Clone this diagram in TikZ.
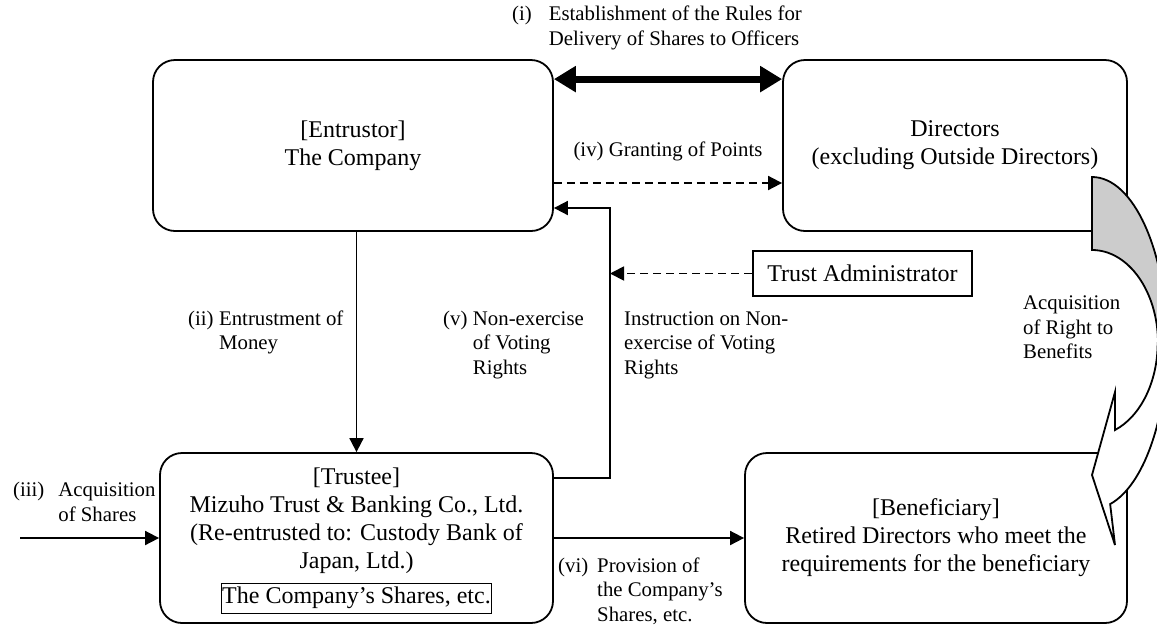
\documentclass[tikz,border=0pt]{standalone}
\usepackage{fontspec}
\setmainfont{Liberation Serif}
\usetikzlibrary{arrows.meta}

\tikzset{
  box/.style={draw, line width=1.8pt, rounded corners=22pt, align=center,
    font=\fontsize{24}{28}\selectfont, inner sep=0pt},
  plainbox/.style={draw, line width=1.8pt, align=center,
    font=\fontsize{24}{28}\selectfont, inner sep=0pt},
  boxtext/.style={align=center, font=\fontsize{24}{28}\selectfont, inner sep=0pt},
  lbl/.style={font=\fontsize{20.8}{24.5}\selectfont, inner sep=0pt, align=left, anchor=west},
  arr/.style={line width=1.8pt, -{Triangle[length=14pt,width=14pt]}},
  dasharr/.style={arr, dash pattern=on 8pt off 5pt},
  bigarr/.style={line width=7pt, {Triangle[length=22pt,width=25pt]}-{Triangle[length=22pt,width=25pt]}},
}

\begin{document}
\begin{tikzpicture}[x=1pt, y=-1pt]
\useasboundingbox (0,0) rectangle (1157,625);

% boxes
\node[box, minimum width=400pt, minimum height=171pt] (company) at (353,145.5) {[Entrustor]\\The Company};
\node[box, minimum width=344pt, minimum height=171pt] (directors) at (955,145.5) {Directors\\(excluding Outside Directors)};
\node[plainbox, minimum width=219pt, minimum height=45pt] (admin) at (862.5,273.5) {Trust Administrator};
\node[box, minimum width=393pt, minimum height=170pt] (trustee) at (356.5,538) {};
\node[box, minimum width=382pt, minimum height=170pt] (beneficiary) at (936,538) {[Beneficiary]\\Retired Directors who meet the\\requirements for the beneficiary};
\node[boxtext] (trusteetext) at (356.5,520.5) {[Trustee]\\Mizuho Trust \& Banking Co., Ltd.\\(Re-entrusted to: Custody Bank of\\Japan, Ltd.)};
\node[draw, line width=0.8pt, inner xsep=1pt, inner ysep=4pt, font=\fontsize{24}{28}\selectfont] (shares) at (356.5,598) {The Company's Shares, etc.};

\coordinate (vline) at (610,273.5);
\coordinate (buyer) at (20,538);

% connectors
\draw[bigarr] ([yshift=-20pt]company.north east) -- ([yshift=-20pt]directors.north west);
\draw[dasharr] ([yshift=-37.5pt]company.east) -- ([yshift=-37.5pt]directors.west);
\draw[arr] (trustee.north |- company.south) -- (trustee.north);
\draw[arr] ([yshift=60pt]trustee.east) -| (vline) |- ([yshift=-62.5pt]company.east);
\draw[dasharr] (admin.west) -- (vline);
\draw[arr] (buyer) -- (trustee.west);
\draw[arr] (trustee.east) -- (beneficiary.west);

% labels
\node[lbl] (rules) at (512,28) {\begin{tabular}{@{}l@{\hspace{17pt}}l@{}}(i)&Establishment of the Rules for\\&Delivery of Shares to Officers\end{tabular}};
\node[lbl, anchor=center] (points) at (668,151) {(iv) Granting of Points};
\node[lbl] (money) at (188,332.5) {\begin{tabular}{@{}l@{\hspace{5.5pt}}l@{}}(ii)&Entrustment of\\&Money\end{tabular}};
\node[lbl] (voting) at (443,345) {\begin{tabular}{@{}l@{\hspace{5.5pt}}l@{}}(v)&Non-exercise\\&of Voting\\&Rights\end{tabular}};
\node[lbl] (instruct) at (624,345) {Instruction on Non-\\exercise of Voting\\Rights};
\node[lbl] (benefits) at (1023,327.5) {Acquisition\\of Right to\\Benefits};
\node[lbl] (acqshares) at (13,504) {\begin{tabular}{@{}l@{\hspace{14pt}}l@{}}(iii)&Acquisition\\&of Shares\end{tabular}};
\node[lbl] (provision) at (558,592) {\begin{tabular}{@{}l@{\hspace{9pt}}l@{}}(vi)&Provision of\\&the Company's\\&Shares, etc.\end{tabular}};

% curved block arrow
\begin{scope}
  \clip (0,0) rectangle (1157,625);
  \filldraw[line width=1.8pt, fill=black!20]
    (1092,177) arc[start angle=-90, end angle=0, x radius=75, y radius=166]
    -- (1158,343) arc[start angle=0, end angle=-90, x radius=66, y radius=93] -- cycle;
  \filldraw[line width=1.8pt, fill=white]
    (1167,343) arc[start angle=0, end angle=76, x radius=75, y radius=166]
    -- (1115,545) -- (1092,475) -- (1115,392)
    -- (1115,430) arc[start angle=69.3, end angle=0, x radius=66, y radius=93] -- cycle;
\end{scope}
\end{tikzpicture}
\end{document}
